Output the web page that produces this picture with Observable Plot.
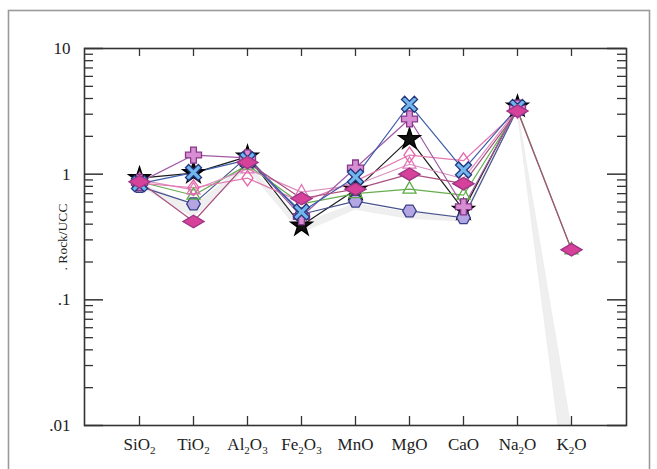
<!DOCTYPE html>
<html><head><meta charset="utf-8">
<script src="https://cdn.jsdelivr.net/npm/d3@7"></script>
<script src="https://cdn.jsdelivr.net/npm/@observablehq/plot@0.6"></script>
<style>
body{margin:0;background:#fff}
#chart{width:657px;height:469px}
#chart svg, #chart svg text, #chart svg tspan{font-family:"Liberation Serif","DejaVu Serif","Noto Serif",serif !important}
</style>
</head><body><div id="chart"></div>
<script>
// ---- data ----
const oxides = ["SiO2","TiO2","Al2O3","Fe2O3","MnO","MgO","CaO","Na2O","K2O"];
const yTickValues = [0.01, 0.1, 1, 10];
const yTickLabels = [".01", ".1", "1", "10"];
const yLabel = ". Rock/UCC";
// Rock/UCC values per oxide (null = not plotted)
const starValues        = [0.93, 1.02, 1.38, 0.39, 0.75, 1.90, 0.52, 3.45, null];
const hexagonValues     = [0.80, 0.58, 1.38, 0.48, 0.61, 0.51, 0.45, 3.30, null];
const greenTriValues    = [0.87, 0.68, 1.18, 0.58, 0.70, 0.76, 0.68, 3.25, 0.25];
const pinkTriValues     = [0.90, 0.75, 1.10, 0.72, 0.82, 1.20, 0.92, 3.30, null];
const openDiamondValues = [0.85, 0.78, 0.93, 0.60, 0.88, 1.42, 1.28, 3.20, null];
const plusValues        = [0.86, 1.42, 1.35, 0.46, 1.12, 2.75, 0.55, 3.35, null];
const crossValues       = [0.84, 1.03, 1.30, 0.50, 0.95, 3.60, 1.08, 3.40, null];
const diamondValues     = [0.87, 0.42, 1.24, 0.64, 0.76, 1.00, 0.84, 3.18, 0.25];
// grey envelope (lower / upper)
const envelopeLow  = [0.80, 0.45, 1.10, 0.34, 0.52, 0.44, 0.42, 3.20, 0.00155];
const envelopeHigh = [0.86, 0.55, 1.22, 0.40, 0.58, 0.49, 0.46, 3.40, 0.0095];

// ---- symbols ----
const rad = s => Math.sqrt(s / Math.PI);
const poly = pts => ({draw(ctx, size) {
  const r = rad(size);
  pts.forEach(([x, y], i) => i ? ctx.lineTo(x * r, y * r) : ctx.moveTo(x * r, y * r));
  ctx.closePath();
}});
const hexSym = poly(d3.range(6).map(i => [Math.cos(i * Math.PI / 3), Math.sin(i * Math.PI / 3)]));
const flatDiamond = poly([[-1.45, 0], [0, -0.85], [1.45, 0], [0, 0.85]]);
const tallDiamond = poly([[-0.85, 0], [0, -1.2], [0.85, 0], [0, 1.2]]);
const triSym = poly([[0, -1.15], [1.0, 0.6], [-1.0, 0.6]]);
const plusPts = (L, t) => [[-t,-L],[t,-L],[t,-t],[L,-t],[L,t],[t,t],[t,L],[-t,L],[-t,t],[-L,t],[-L,-t],[-t,-t]];
const plusSym = poly(plusPts(1, 0.36));
const c45 = Math.SQRT1_2;
const xSym = poly(plusPts(1.3, 0.32).map(([x, y]) => [(x - y) * c45, (x + y) * c45]));
const starSym = d3.symbolStar;

const series = [
  {v: starValues,        sym: starSym,     r: 6.8, fill: "#111",    stroke: "#000",    line: "#1d1d1d"},
  {v: hexagonValues,     sym: hexSym,      r: 6.8, fill: "#b4a6e2", stroke: "#383f88", line: "#48528f"},
  {v: greenTriValues,    sym: triSym,      r: 6.5, fill: "none",    stroke: "#5aab45", line: "#67ad50"},
  {v: pinkTriValues,     sym: triSym,      r: 6.5, fill: "none",    stroke: "#e07ab8", line: "#dc90c0"},
  {v: openDiamondValues, sym: tallDiamond, r: 6.5, fill: "none",    stroke: "#e565a8", line: "#e37ab2"},
  {v: plusValues,        sym: plusSym,     r: 8,   fill: "#d88ed2", stroke: "#88398c", line: "#a159a5"},
  {v: crossValues,       sym: xSym,        r: 7,   fill: "#72b6ec", stroke: "#22367e", line: "#3c5daa"},
  {v: diamondValues,     sym: flatDiamond, r: 7.3, fill: "#d6419a", stroke: "#9b3585", line: "#a8507f"}
];
const rows = vals => oxides.map((o, i) => ({o, v: vals[i]})).filter(d => d.v != null);

// ---- layout ----
const W = 657, H = 469, mL = 84, mR = 31, mT = 48, mB = 44;
const fw = W - mL - mR, fh = H - mT - mB;
const minorTicks = [0.01, 0.1, 1].flatMap(d => d3.range(2, 10).map(k => k * d));
const envRows = oxides.map((o, i) => ({o, lo: envelopeLow[i], hi: envelopeHigh[i]}));

const marks = [
  Plot.areaY(envRows, {x: "o", y1: "lo", y2: "hi", fill: "#efefef", stroke: "#e6e6e6", strokeWidth: 0.5, clip: true}),
  ...series.map(s => Plot.line(rows(s.v), {x: "o", y: "v", stroke: s.line, strokeWidth: 1.2})),
  ...series.map(s => Plot.dot(rows(s.v), {x: "o", y: "v", symbol: s.sym, r: s.r, fill: s.fill, stroke: s.stroke, strokeWidth: 1.3})),
  // inward ticks
  Plot.tickY(minorTicks, {y: d => d, insetRight: fw - 9, stroke: "#333", strokeWidth: 1.3}),
  Plot.tickY(minorTicks, {y: d => d, insetLeft: fw - 9, stroke: "#333", strokeWidth: 1.3}),
  Plot.tickY(yTickValues, {y: d => d, insetRight: fw - 19, stroke: "#333", strokeWidth: 1.5}),
  Plot.tickY(yTickValues, {y: d => d, insetLeft: fw - 19, stroke: "#333", strokeWidth: 1.5}),
  Plot.tickX(oxides, {x: d => d, insetBottom: fh - 8, stroke: "#333", strokeWidth: 1.3}),
  Plot.tickX(oxides, {x: d => d, insetTop: fh - 9, stroke: "#333", strokeWidth: 1.3}),
  Plot.frame({stroke: "#333", strokeWidth: 1.6}),
  Plot.axisY(yTickValues, {tickSize: 0, tickPadding: 14, fontSize: 17, tickFormat: d => yTickLabels[yTickValues.indexOf(d)], label: null}),
  Plot.axisX({tickSize: 0, tickPadding: 12, fontSize: 17, label: null}),
  Plot.text([yLabel], {text: d => d, frameAnchor: "left", textAnchor: "middle", dx: -22, rotate: -90, fontSize: 13.5, fill: "#222"})
];

const chart = Plot.plot({
  width: W, height: H,
  marginLeft: mL, marginRight: mR, marginTop: mT, marginBottom: mB,
  style: {fontFamily: "'Liberation Serif', 'DejaVu Serif', serif", background: "#fff", color: "#222"},
  x: {type: "point", domain: oxides, padding: 1, axis: null},
  y: {type: "log", domain: [0.01, 10], axis: null},
  marks
});

// subscripts in oxide labels
d3.select(chart).selectAll("text").each(function() {
  const t = this.textContent;
  if (!oxides.includes(t)) return;
  const sel = d3.select(this);
  sel.text("");
  const parts = t.match(/[A-Za-z]+|\d+/g);
  let sub = false;
  parts.forEach(p => {
    const isNum = /\d/.test(p);
    const ts = sel.append("tspan").text(p);
    if (isNum && !sub) { ts.attr("dy", 4).attr("font-size", 11); sub = true; }
    else if (isNum) { ts.attr("font-size", 11); }
    else if (sub) { ts.attr("dy", -4); sub = false; }
  });
});

// outer border
d3.select(chart).insert("rect", ":first-child")
  .attr("x", 8.5).attr("y", 10.5).attr("width", 641).attr("height", 470)
  .attr("fill", "none").attr("stroke", "#9a9a9a").attr("stroke-width", 1.6);

document.getElementById("chart").append(chart);
</script></body></html>
